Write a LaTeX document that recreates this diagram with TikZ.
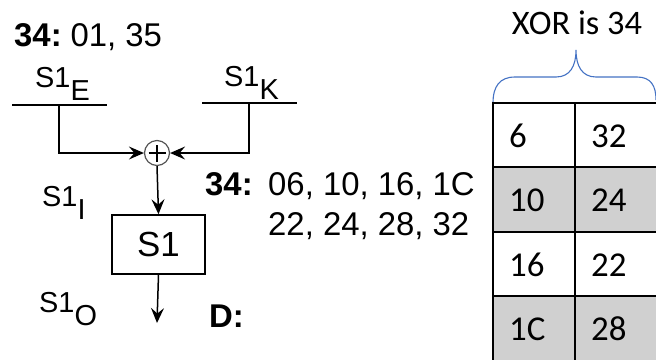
\documentclass[tikz,border=0pt]{standalone}
\usepackage{fontspec}
\setmainfont{Liberation Sans}
\newfontfamily\calibri{Carlito}
\usetikzlibrary{arrows.meta}
\definecolor{bracecol}{HTML}{4472C4}
\definecolor{cellgray}{HTML}{D0D0D0}
\definecolor{ringgray}{HTML}{555555}
% label with a full-size, lowered subscript
\newcommand\lowsub[2]{#1\raisebox{-0.45em}{#2}}
\tikzset{
  lbl/.style={inner sep=0pt, font=\fontsize{29}{29}\selectfont},
  hdr/.style={inner sep=0pt, font=\fontsize{33}{33}\selectfont},
  vals/.style={inner sep=0pt, font=\fontsize{33}{33}\selectfont},
  wire/.style={line width=1.5bp},
  arr/.style={wire, -{Stealth[length=15bp,width=13bp,inset=5.5bp]}},
  xorc/.style={circle, draw=ringgray, line width=1.2bp, minimum size=25bp, inner sep=0pt},
  sbox/.style={draw, line width=1.5bp, minimum width=93bp, minimum height=59bp,
    inner sep=0pt, font=\fontsize{35}{35}\selectfont},
  tline/.style={line width=2bp},
  cellnum/.style={inner sep=0pt, anchor=west, font=\calibri\fontsize{35}{35}\selectfont},
  brace/.style={draw=bracecol, line width=1.1bp},
}
\begin{document}
\begin{tikzpicture}[x=1bp,y=-1bp]
\useasboundingbox (0,0) rectangle (656,359);
\fill[white] (0,0) rectangle (656,359);

% ---- S-box round: inputs, XOR, S1, output ----
\node[hdr, anchor=base west] (hdr) at (14,46) {\textbf{34:}\hspace{-0.1em} 01, 35};

\node[lbl, anchor=base west] (e) at (35,87) {\lowsub{S1}{E}};
\node[lbl, anchor=base west] (k) at (224,86) {\lowsub{S1}{K}};
\coordinate (eL) at (12,105);
\coordinate (eR) at (107,105);
\coordinate (eM) at (59,105);
\coordinate (kL) at (202,103);
\coordinate (kR) at (297,103);
\coordinate (kM) at (249,103);
\draw[wire] (eL) -- (eR);
\draw[wire] (kL) -- (kR);

\node[xorc] (xor) at (157,153) {};
\draw[line width=1.5bp] ([xshift=-8.5bp]xor.center) -- ([xshift=8.5bp]xor.center)
  ([yshift=-8.5bp]xor.center) -- ([yshift=8.5bp]xor.center);
\draw[arr] (eM) |- (xor.west);
\draw[arr] (kM) |- (xor.east);

\node[lbl, anchor=base west] (ilbl) at (42,206) {\lowsub{S1}{I}};
\node[sbox] (s1) at (158.5,244.5) {S1};
\draw[arr] (xor.south) -- (s1.north);

\coordinate (out) at (157,323);
\draw[arr] (s1.south) -- (out);
\node[lbl, anchor=base west] (olbl) at (39,312) {\lowsub{S1}{O}};

\node[vals, anchor=base west] (v0) at (205,195) {\textbf{34:}};
\node[vals, anchor=base west] (v1) at (268,195) {06, 10, 16, 1C};
\node[vals, anchor=base west] (v2) at (268,235) {22, 24, 28, 32};
\node[hdr, anchor=base west] (d) at (209,327) {\textbf{D:}};

% ---- pair table ----
\node[inner sep=0pt, anchor=base, font=\calibri\fontsize{34.5}{34.5}\selectfont] (xorlbl) at (577,34) {XOR is 34};
\draw[brace] (493,103) .. controls (493,86) and (500,77) .. (515,77) -- (556,77)
  .. controls (570,77) and (576,66) .. (576,50)
  .. controls (576,66) and (582,77) .. (596,77) -- (637,77)
  .. controls (651,77) and (656,86) .. (656,100);

\fill[cellgray] (493,167) rectangle (660,232);
\fill[cellgray] (493,296) rectangle (660,362);
\draw[tline] (493,362) -- (493,103) -- (660,103);
\draw[tline] (575,103) -- (575,362);
\draw[line width=2.8bp] (493,167) -- (660,167);
\draw[tline] (493,232) -- (660,232);
\draw[tline] (493,296) -- (660,296);

\node[cellnum] (a1) at (509,136) {6};
\node[cellnum] (b1) at (591,136) {32};
\node[cellnum] (a2) at (509,200) {10};
\node[cellnum] (b2) at (591,200) {24};
\node[cellnum] (a3) at (509,265) {16};
\node[cellnum] (b3) at (591,265) {22};
\node[cellnum] (a4) at (509,329) {1C};
\node[cellnum] (b4) at (591,329) {28};
\end{tikzpicture}
\end{document}
